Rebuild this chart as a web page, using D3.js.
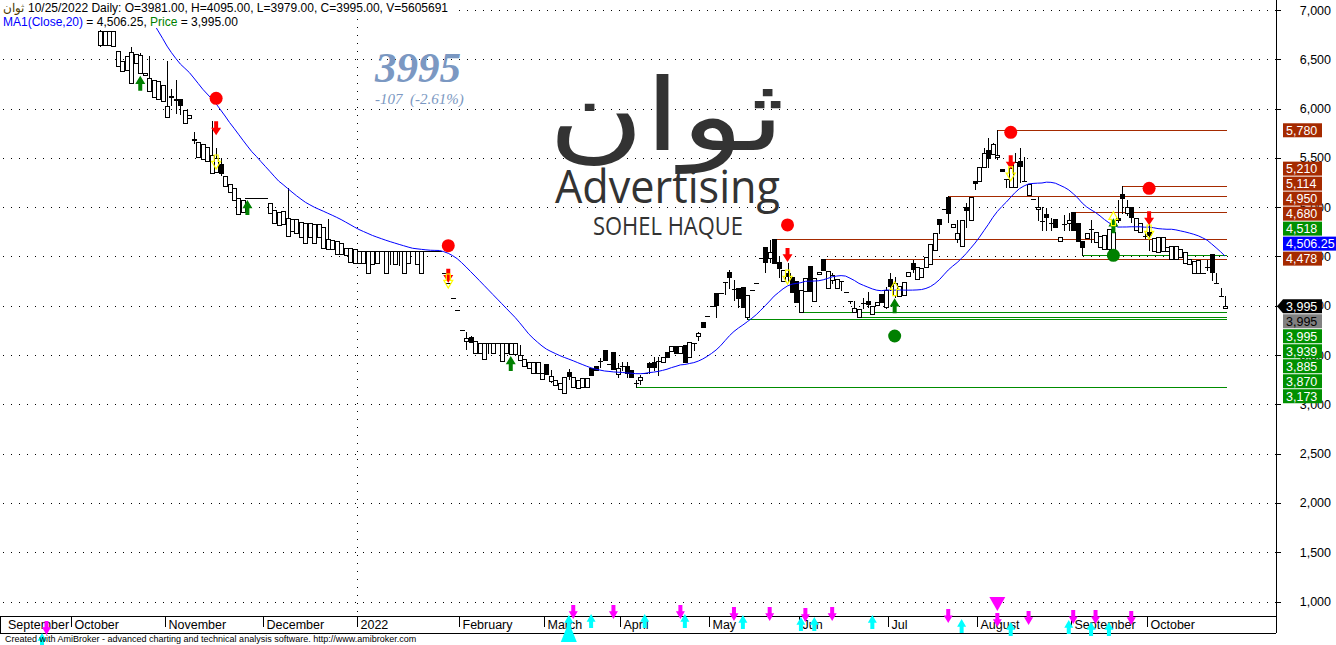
<!DOCTYPE html>
<html><head><meta charset="utf-8">
<script src="https://cdn.jsdelivr.net/npm/d3@7"></script>
<style>body{margin:0;background:#fff;overflow:hidden}svg{display:block}</style>
</head><body><svg id="c" width="1336" height="645"></svg>
<script>
// ---------- DATA ----------
// daily bars [open, close] or [open, high, low, close]; bar index 0..275 (last = 10/25/2022)
const ohlc = [
[8520,8500],[8480,8450],[8400,8380],[8380,8420],[8350,8300],[8300,8250],[8230,8180],[8150,8200],[8150,8100],[8100,8050],
[8030,7980],[8000,7950],[7950,7900],[7900,7850],[7850,7800],[7820,7790],[7800,7780],[7780,7750],[7650,7600],[7500,7450],
[7350,7300],[7200,7150],[6830,6830],[6640,6800,6635,6790],[6640,6790],[6640,6790],[6635,6790],[6432,6587],[6384,6486],[6391,6533],
[6256,6622,6256,6577],[6462,6553],[6361,6563,6361,6543],[6340,6364],[6181,6533,6181,6310],[6121,6290],[6094,6280],[6077,6239],[5918,6486,5918,6026],[6125,6198,6036,6115],
[6097,6290,5955,6087],[6097,6097,5945,6036],[5857,5986],[5904,5935],[5690,5767,5655,5681],[5512,5661],[5488,5640],[5468,5613],[5346,5874,5346,5529],[5360,5600,5360,5498],
[5438,5498,5326,5343],[5215,5319],[5157,5236],[5073,5195],[4927,5096],[4954,5073],[5090,5090],[5090,5090],[5090,5090],[5090,5090],
[5090,5090],[4945,5042],[4842,4971],[4819,4954],[4826,4961],[4707,5191,4707,4893],[4761,4880],[4735,4880],[4700,4853],[4633,4839],
[4700,4836],[4633,4829],[4700,4826],[4582,4802],[4574,4880,4574,4680],[4574,4667],[4525,4660],[4522,4640],[4515,4586],[4447,4583],
[4430,4572],[4430,4560],[4430,4560],[4335,4560],[4423,4560],[4430,4560],[4560,4560],[4328,4560],[4560,4560,4420,4560],[4420,4560],
[4560,4560,4410,4560],[4328,4560],[4430,4560],[4560,4560],[4420,4560],[4328,4560],[4560,4560],[4560,4560],[4560,4560],[4560,4560],
[4328,4328],[4230,4230],[4075,4075],[3953,3953],[3757,3757],[3642,3736,3561,3676],[3682,3690,3630,3635],[3523,3646],[3523,3625],[3456,3625],
[3625,3625,3523,3625],[3517,3625],[3625,3625],[3442,3625],[3517,3625],[3510,3625],[3510,3625],[3449,3601,3449,3497],[3392,3457],[3373,3427],
[3322,3427],[3322,3427],[3254,3315],[3406,3307],[3240,3348,3229,3287],[3196,3247],[3152,3219],[3118,3280],[3331,3355,3254,3287],[3179,3280],
[3162,3247],[3179,3264],[3179,3264],[3365,3297],[3389,3348],[3442,3470,3382,3442],[3551,3449],[3406,3406],[3534,3355],[3307,3416,3280,3365],
[3388,3432,3348,3388],[3388,3432,3280,3314],[3348,3274],[3213,3247,3173,3213],[3247,3297,3206,3274],[3314,3314],[3422,3432,3314,3375],[3432,3483,3348,3375],[3439,3483,3297,3439],[3432,3483],
[3527,3483],[3544,3591],[3591,3524],[3520,3591],[3601,3432],[3483,3635],[3625,3625,3551,3625],[3693,3736,3652,3720],[3838,3781],[3899,3899],
[3997,3997],[4126,4126,3889,4007],[4126,4126],[4244,4244,4119,4244],[4345,4362,4177,4288],[4170,4261,4058,4170],[4177,4177,3990,4075],[4193,3990],[3882,4109,3870,4109],[4163,4163],
[4227,4227],[4481,4481],[4599,4599,4339,4447],[4481,4667,4447,4542],[4674,4680,4430,4430],[4440,4490,4295,4379],[4251,4362],[4329,4430,4244,4301],[4295,4142],[4250,4042],
[3939,4160],[4152,4278],[4403,4152],[4051,4278],[4322,4345],[4478,4478,4362,4362],[4177,4355],[4261,4329,4227,4312],[4177,4268],[4250,4250,4160,4250],
[4136,4136],[4048,4048,4028,4048],[3940,4048,3940,3974],[3885,3966],[4031,4075,3974,4031],[4048,4142,3990,4014],[3913,3997],[4004,4041],[4119,4041],[3983,4193,3974,4160],
[4268,4329,4160,4203],[4109,4295,4092,4227],[4102,4203],[4109,4237],[4305,4339],[4436,4460,4340,4372],[4268,4390],[4295,4386],[4396,4497],[4423,4623],
[4565,4735],[4877,4877,4735,4829],[4981,4981],[5106,5114,4850,4944],[4802,4826],[4680,4870,4650,4735],[4609,4870],[5005,5040,4802,4971],[4870,5106],[5265,5265,5180,5242],
[5265,5404],[5404,5597,5404,5546],[5580,5698,5410,5495],[5536,5648,5536,5641],[5506,5780,5485,5530],[5384,5370],[5282,5282,5207,5282],[5207,5394],[5207,5546,5207,5461],[5468,5597,5258,5421],
[5265,5512,5265,5265],[5123,5231],[5083,5083],[4978,5106,4870,4998],[4860,5005,4768,4860],[4927,4988,4768,4903],[4836,4887,4768,4836],[4880,4795],[4657,4694],[4826,4920,4768,4826],
[4836,4938,4768,4870],[4948,4950,4768,4768],[4836,4660],[4660,4660,4518,4599],[4684,4735],[4775,4870,4650,4775],[4643,4744],[4599,4707],[4572,4714],[4572,4775,4505,4775],
[4560,4750],[4890,5073,4850,4870],[5130,5210,4938,5096],[4944,5073,4920,5005],[4998,4998,4850,4903],[4768,4893],[4751,4843],[4710,4760,4690,4710],[4751,4937,4565,4718],[4555,4690],
[4549,4694],[4555,4694],[4555,4599],[4471,4606],[4471,4606],[4491,4572],[4430,4548],[4420,4471],[4335,4457],[4328,4464],
[4335,4335],[4396,4464,4362,4396],[4521,4521,4261,4345],[4227,4329,4227,4227],[4102,4183,4102,4102],[3981,4095,3979,3995]
];
const maPeriod = 20;

// month labels: first bar of each month
const monthNames = ["September","October","November","December","2022","February","March","April","May","Jun","Jul","August","September","October"];
const monthBars  = [2,17,38,60,81,104,123,140,160,180,200,220,241,258];
const yearBar = 81;

const yTicks = [1000,1500,2000,2500,3000,3500,4000,4500,5000,5500,6000,6500,7000];

// support / resistance levels drawn from a bar to the last bar
const levelValues = [5780,5210,5114,4950,4680,4478,4518,3939,3885,3870,3173];
const levelStart  = [224,252,213,241,174,185,243,180,193,168,143];
const levelKind   = ["r","r","r","r","r","r","s","s","s","s","s"];

// right-axis value tags
const tagValues = [5780,5210,5114,4950,4680,4518,4506.25,4478,3995,3995,3995,3939,3885,3870,3173];
const tagTexts  = ["5,780","5,210","5,114","4,950","4,680","4,518","4,506.25","4,478","3,995","3,995","3,995","3,939","3,885","3,870","3,173"];
const tagKind   = ["r","r","r","r","r","s","ma","r","price","close","s","s","s","s","s"];

// signals
const sellBars = [49,101,177,227,258];
const sellDot  = [6104,4609,4820,5759,5191];
const sellHollow = [5529,4322,4362,5410,4819];
const buyBars  = [32,56,115,201,250];
const buyArrow = [6333,5073,3490,4075,4887];
const buyDotBars = [201,250];
const buyDot     = [3693,4511];
const buyHollowBars = [201,250];
const buyHollow     = [4244,4954];

// lower indicator shapes
const magentaBars = [11,129,138,153,165,173,181,187,213,224,231,241,246,254];
const magentaLvl  = [802,964,964,964,944,944,934,944,923,883,903,913,913,903];
const cyanBars = [10,128,133,145,154,167,180,183,196,216,227,240,245,249];
const cyanLvl  = [680,862,873,873,873,862,842,842,862,822,792,812,792,792];
const bigCyanBar = 128, bigCyanLvl = 792;
const bigMagentaBar = 224, bigMagentaLvl = 1045;

// header texts
const tickerName = "ثوان";
const headerLine1 = "10/25/2022 Daily: O=3981.00, H=4095.00, L=3979.00, C=3995.00, V=5605691";

// ---------- DRAW ----------
const svg = d3.select("#c");
const PR = 1276, AX = 616, FB = 633;
const step = 4.464;
const x = d3.scaleLinear().domain([0, ohlc.length-1]).range([1225 - (ohlc.length-1)*step, 1225]);
const y = d3.scaleLinear().domain([1000, 7000]).range([601.5, 10]);
const bars = ohlc.map(b => b.length === 2 ? {o:b[0],c:b[1],h:Math.max(b[0],b[1]),l:Math.min(b[0],b[1])} : {o:b[0],h:b[1],l:b[2],c:b[3]});
const closes = bars.map(b=>b.c);

svg.append("rect").attr("width",1336).attr("height",645).attr("fill","#fff");
svg.append("defs").append("clipPath").attr("id","plot").append("rect").attr("x",0).attr("y",0).attr("width",PR).attr("height",AX);

// grid
const grid = svg.append("g").attr("shape-rendering","crispEdges");
grid.selectAll("line.h").data(yTicks).join("line").attr("class","h")
  .attr("x1",3).attr("x2",PR).attr("y1",d=>Math.round(y(d))+0.5).attr("y2",d=>Math.round(y(d))+0.5)
  .attr("stroke","#000").attr("stroke-dasharray","1,7");
const xy = Math.round(x(yearBar-0.5))+0.5;
grid.append("line").attr("x1",xy).attr("x2",xy).attr("y1",3).attr("y2",AX).attr("stroke","#000").attr("stroke-dasharray","1,7");

const plot = svg.append("g").attr("clip-path","url(#plot)");

// levels
const colR = "#a52a00", colS = "#008c00";
plot.append("g").attr("shape-rendering","crispEdges").selectAll("line").data(levelValues).join("line")
  .attr("x1",(d,i)=>x(levelStart[i])).attr("x2",x(ohlc.length-1)+2)
  .attr("y1",d=>Math.round(y(d))+0.5).attr("y2",d=>Math.round(y(d))+0.5)
  .attr("stroke",(d,i)=>levelKind[i]==="r"?colR:colS).attr("stroke-width",1.4);

// candles
const cg = plot.append("g").attr("shape-rendering","crispEdges");
bars.forEach((b,i)=>{
  const X = Math.round(x(i)) - 2;
  const yh = Math.round(y(b.h)), yl = Math.round(y(b.l));
  const yo = Math.round(y(b.o)), yc = Math.round(y(b.c));
  if (yl > yh) cg.append("rect").attr("x",X+2).attr("y",yh).attr("width",1).attr("height",yl-yh+1).attr("fill","#000");
  if (Math.abs(yo-yc) < 1) {
    cg.append("rect").attr("x",X).attr("y",yc).attr("width",5).attr("height",1).attr("fill","#000");
  } else if (b.c > b.o) {
    cg.append("rect").attr("x",X+0.5).attr("y",yc+0.5).attr("width",4).attr("height",yo-yc).attr("fill","#fff").attr("stroke","#000");
  } else {
    cg.append("rect").attr("x",X).attr("y",yo).attr("width",5).attr("height",yc-yo+1).attr("fill","#000");
  }
});

// moving average
const ma = closes.map((c,i)=> i < maPeriod-1 ? null : d3.mean(closes.slice(i-maPeriod+1,i+1)));
plot.append("path").datum(ma.map((v,i)=>[i,v]).filter(d=>d[1]!==null))
  .attr("d", d3.line().x(d=>x(d[0])).y(d=>y(d[1])))
  .attr("fill","none").attr("stroke","#0000ff").attr("stroke-width",1);

// shapes
function downArrow(cx, top, h, w, sw){
  const hh = h*0.55;
  return `M${cx-sw/2},${top} L${cx+sw/2},${top} L${cx+sw/2},${top+h-hh} L${cx+w/2},${top+h-hh} L${cx},${top+h} L${cx-w/2},${top+h-hh} L${cx-sw/2},${top+h-hh} Z`;
}
function upArrow(cx, top, h, w, sw){
  const hh = h*0.55;
  return `M${cx},${top} L${cx+w/2},${top+hh} L${cx+sw/2},${top+hh} L${cx+sw/2},${top+h} L${cx-sw/2},${top+h} L${cx-sw/2},${top+hh} L${cx-w/2},${top+hh} Z`;
}
const sg = svg.append("g");
sellBars.forEach((b,i)=>{
  const cx = x(b), dy = y(sellDot[i]);
  sg.append("circle").attr("cx",cx).attr("cy",dy).attr("r",6.5).attr("fill","#ff0000");
  sg.append("path").attr("d",downArrow(cx, dy+23, 14, 10, 4)).attr("fill","#ff0000");
  sg.append("path").attr("d",downArrow(cx, y(sellHollow[i]), 14, 9, 4)).attr("fill","none").attr("stroke","#ffff00").attr("stroke-width",1.2);
});
buyBars.forEach((b,i)=>{
  sg.append("path").attr("d",upArrow(x(b), y(buyArrow[i]), 15, 10, 4)).attr("fill","#008000");
});
buyDotBars.forEach((b,i)=>{
  sg.append("circle").attr("cx",x(b)).attr("cy",y(buyDot[i])).attr("r",6.5).attr("fill","#008000");
});
buyHollowBars.forEach((b,i)=>{
  sg.append("path").attr("d",upArrow(x(b), y(buyHollow[i]), 14, 9, 4)).attr("fill","none").attr("stroke","#ffff00").attr("stroke-width",1.2);
});

// axes frame
const fr = svg.append("g").attr("shape-rendering","crispEdges").attr("stroke","#000");
fr.append("line").attr("x1",0).attr("x2",PR).attr("y1",AX+0.5).attr("y2",AX+0.5);
fr.append("line").attr("x1",0).attr("x2",PR).attr("y1",FB+0.5).attr("y2",FB+0.5);
fr.append("line").attr("x1",PR+0.5).attr("x2",PR+0.5).attr("y1",0).attr("y2",FB);
fr.append("line").attr("x1",0.5).attr("x2",0.5).attr("y1",AX).attr("y2",FB);

// right axis
const ra = svg.append("g");
ra.selectAll("line").data(yTicks).join("line").attr("shape-rendering","crispEdges")
  .attr("x1",PR).attr("x2",PR+5).attr("y1",d=>Math.round(y(d))+0.5).attr("y2",d=>Math.round(y(d))+0.5).attr("stroke","#000");
ra.selectAll("text").data(yTicks).join("text")
  .attr("x",1331).attr("y",d=>y(d)).attr("dy","0.36em").attr("text-anchor","end")
  .attr("font-family","Liberation Sans, Arial, sans-serif").attr("font-size",12.5).text(d3.format(","));

// month axis
const ma2 = svg.append("g");
monthBars.forEach((b,i)=>{
  const tx = Math.round(x(b-0.5))+0.5;
  if (i>0) ma2.append("line").attr("x1",tx).attr("x2",tx).attr("y1",AX).attr("y2",AX+11).attr("stroke","#000").attr("shape-rendering","crispEdges");
  ma2.append("text").attr("x", i===0 ? 8 : tx+3).attr("y",629).attr("font-family","Liberation Sans, Arial, sans-serif")
    .attr("font-size",12.5).text(monthNames[i]);
});

// value tags (stacked)
const lastClose = closes[closes.length-1];
const tagOrder = tagValues.map((v,i)=>i);
const tagY = [];
const upper = tagOrder.filter(i=>tagValues[i] > lastClose).sort((a,b)=>tagValues[a]-tagValues[b]);
const lower = tagOrder.filter(i=>!upper.includes(i)).sort((a,b)=>tagValues[b]-tagValues[a] || a-b);
let prev = Infinity;
upper.forEach(i=>{ const t = Math.min(y(tagValues[i]), prev-15); tagY[i]=t; prev=t; });
prev = -Infinity;
lower.forEach(i=>{ const t = Math.max(y(tagValues[i]), prev+15); tagY[i]=t; prev=t; });
const tg = svg.append("g").attr("font-family","Liberation Sans, Arial, sans-serif").attr("font-size",12.5);
tagValues.forEach((v,i)=>{
  const k = tagKind[i], cy = tagY[i];
  const fill = k==="r"?colR : k==="s"?"#009000" : k==="ma"?"#0000ff" : k==="price"?"#000" : "#808080";
  const w = k==="ma" ? 54 : 39;
  if (k==="price") {
    tg.append("path").attr("d",`M1277,${cy} L1283,${cy-7} L${1283+w},${cy-7} L${1283+w},${cy+7} L1283,${cy+7} Z`).attr("fill",fill);
  } else {
    tg.append("rect").attr("x",1283).attr("y",cy-7).attr("width",w).attr("height",14).attr("fill",fill);
  }
  tg.append("text").attr("x",1286).attr("y",cy).attr("dy","0.36em").attr("fill",k==="close"?"#000":"#fff").text(tagTexts[i]);
});

// lower indicator arrows
const lg = svg.append("g");
magentaBars.forEach((b,i)=>lg.append("path").attr("d",downArrow(x(b), y(magentaLvl[i]), 14, 9, 4)).attr("fill","#ff00ff"));
cyanBars.forEach((b,i)=>lg.append("path").attr("d",upArrow(x(b), y(cyanLvl[i]), 14, 9, 4)).attr("fill","#00ffff"));
{ const cx = x(bigCyanBar), t = y(bigCyanLvl);
  lg.append("path").attr("d",`M${cx},${t} L${cx+8},${t+20} L${cx-8},${t+20} Z`).attr("fill","#00ffff"); }
{ const cx = x(bigMagentaBar), t = y(bigMagentaLvl);
  lg.append("path").attr("d",`M${cx-8},${t} L${cx+8},${t} L${cx},${t+14} Z`).attr("fill","#ff00ff"); }

// overlay texts
const ov = svg.append("g");
ov.append("text").attr("x",375).attr("y",82).attr("font-family","Liberation Serif, serif").attr("font-style","italic").attr("font-weight","bold")
  .attr("font-size",43).attr("fill","#7b98c2").text("3995");
ov.append("text").attr("x",375).attr("y",104).attr("font-family","Liberation Serif, serif").attr("font-style","italic")
  .attr("font-size",15).attr("fill","#7b98c2").attr("xml:space","preserve").text("-107  (-2.61%)");
ov.append("text").attr("x",548).attr("y",150).attr("font-family","DejaVu Sans, sans-serif").attr("font-size",100)
  .attr("fill","#333").attr("textLength",237).attr("lengthAdjust","spacingAndGlyphs").text(tickerName);
ov.append("text").attr("x",555).attr("y",203).attr("font-family","Open Sans, sans-serif").attr("font-size",45)
  .attr("fill","#333").attr("textLength",225).attr("lengthAdjust","spacingAndGlyphs").text("Advertising");
ov.append("text").attr("x",593).attr("y",235).attr("font-family","Open Sans, sans-serif").attr("font-size",25)
  .attr("fill","#333").attr("textLength",150).attr("lengthAdjust","spacingAndGlyphs").text("SOHEL HAQUE");

// header
const hd = svg.append("g").attr("font-family","Liberation Sans, Arial, sans-serif").attr("font-size",12);
hd.append("rect").attr("x",0).attr("y",0).attr("width",458).attr("height",14).attr("fill","#fff");
hd.append("rect").attr("x",0).attr("y",14).attr("width",243).attr("height",14).attr("fill","#fff");
const tn = hd.append("text").attr("x",3).attr("y",12).attr("fill","#4a3a00").text(tickerName);
const tnw = tn.node().getComputedTextLength();
hd.append("text").attr("x",3 + tnw + 4).attr("y",12).attr("fill","#000").text(headerLine1);
const t2 = hd.append("text").attr("x",3).attr("y",26);
t2.append("tspan").attr("fill","#0000ff").text("MA1(Close,20)");
t2.append("tspan").attr("fill","#000").text(" = 4,506.25, ");
t2.append("tspan").attr("fill","#008000").text("Price");
t2.append("tspan").attr("fill","#000").text(" = 3,995.00");

// footer
svg.append("text").attr("x",5).attr("y",642).attr("font-family","Liberation Sans, Arial, sans-serif").attr("font-size",9)
  .text("Created with AmiBroker - advanced charting and technical analysis software. http://www.amibroker.com");
</script></body></html>
